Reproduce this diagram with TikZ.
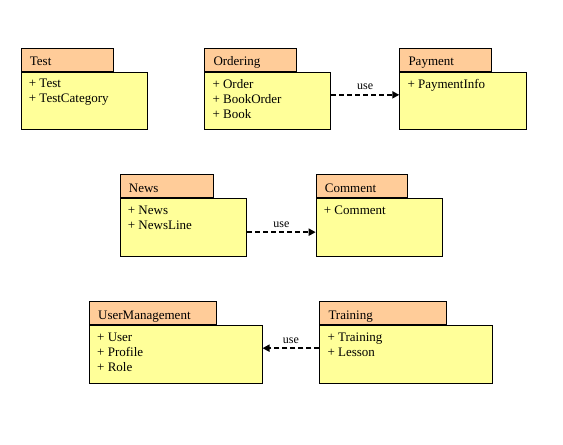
\documentclass[tikz,border=0pt]{standalone}
\usepackage{fontspec}
\setmainfont{Liberation Serif}
\usetikzlibrary{arrows.meta}
\definecolor{tabfill}{HTML}{FFCC99}
\definecolor{bodyfill}{HTML}{FFFF99}
% one package: body node, tab on top of it, title and items
\newcommand*{\pkgbox}[7]{%
  \node[pkgbody, minimum width=#5] (#1) at (#2,#3) {};
  \node[pkgtab, minimum width=#4] (#1tab) at (#1.north west) {};
  \node[pkgtitle] (#1title) at ([shift={(9pt,6pt)}]#1tab.south west) {#6};
  \node[pkgitems] (#1items) at ([shift={(8pt,-7.5pt)}]#1.north west) {#7};
}
\begin{document}
\begin{tikzpicture}[x=1pt, y=-1pt,
  pkgbody/.style={draw, fill=bodyfill, line width=0.8pt, anchor=north west,
    inner sep=0pt, minimum height=57.5pt},
  pkgtab/.style={draw, fill=tabfill, line width=0.8pt, anchor=south west,
    inner sep=0pt, minimum height=23pt},
  pkgtitle/.style={anchor=base west, inner sep=0pt, font=\fontsize{13}{15}\selectfont},
  pkgitems/.style={anchor=north west, inner sep=0pt, align=left,
    font=\fontsize{13}{15}\selectfont},
  usearrow/.style={line width=1.8pt, dash pattern=on 5pt off 3pt,
    -{Triangle[length=7pt,width=7pt]}},
  uselabel/.style={midway, above=4pt, inner sep=0pt, font=\fontsize{12}{14}\selectfont}]
  \useasboundingbox (0,0) rectangle (563,445);

  \pkgbox{test}{20.7}{71.7}{92}{126}{Test}{+ Test\\+ TestCategory}
  \pkgbox{ordering}{204.3}{71.7}{92}{126}{Ordering}{+ Order\\+ BookOrder\\+ Book}
  \pkgbox{payment}{399.3}{71.7}{92}{126.5}{Payment}{+ PaymentInfo}

  \pkgbox{news}{119.7}{198}{93.5}{126.5}{News}{+ News\\+ NewsLine}
  \pkgbox{comment}{315.7}{198}{91}{126.5}{Comment}{+ Comment}

  \pkgbox{users}{89}{325}{126.7}{172.7}{UserManagement}{+ User\\+ Profile\\+ Role}
  \pkgbox{training}{319.3}{325}{126.4}{173}{Training}{+ Training\\+ Lesson}

  \draw[usearrow] ([yshift=6pt]ordering.east) -- node[uselabel]{use} ([yshift=6pt]payment.west);
  \draw[usearrow] ([yshift=-5pt]news.east) -- node[uselabel]{use} ([yshift=-5pt]comment.west);
  \draw[usearrow] ([yshift=6pt]training.west) -- node[uselabel]{use} ([yshift=6pt]users.east);
\end{tikzpicture}
\end{document}
